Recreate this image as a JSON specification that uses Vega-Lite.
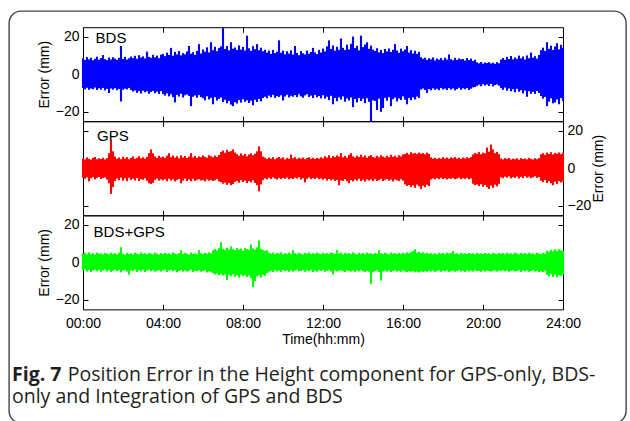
{
  "$schema": "https://vega.github.io/schema/vega-lite/v6.json",
  "width": 617,
  "height": 412,
  "autosize": {"type": "none"},
  "padding": {"left": 9, "top": 11, "right": 4, "bottom": 0},
  "background": "white",
  "config": {
    "view": {"stroke": "#444444", "strokeWidth": 1.4, "cornerRadius": 12},
    "axis": {
      "labelFont": "Liberation Sans", "labelFontSize": 14, "labelColor": "#000000",
      "titleFont": "Liberation Sans", "titleFontSize": 14, "titleFontWeight": "normal", "titleColor": "#000000",
      "domainColor": "#000000", "domainWidth": 1, "tickColor": "#000000", "tickWidth": 1,
      "labelFlush": false, "labelOverlap": false, "grid": false, "zindex": 1
    },
    "text": {"font": "Liberation Sans", "fontSize": 15, "color": "#000000"}
  },
  "title": {
    "text": "Fig. 7",
    "subtitle": ["\u200b\u00a0\u00a0\u00a0\u00a0\u00a0\u00a0\u00a0\u00a0\u00a0\u00a0\u00a0Position Error in the Height component for GPS-only, BDS-", "only and Integration of GPS and BDS"],
    "orient": "bottom", "anchor": "start", "frame": "group", "offset": -57, "dx": 3,
    "font": "Open Sans", "fontSize": 19.5, "fontWeight": "bold", "color": "#231f20",
    "subtitleFont": "Open Sans", "subtitleFontSize": 19.5, "subtitleFontWeight": "normal", "subtitleColor": "#231f20",
    "subtitlePadding": -19.5, "subtitleLineHeight": 22
  },
  "data": {"values": [
    {"t":0.0,"bh":8.5,"bl":-7.4,"gh":5.2,"gl":-5.0,"ch":4.6,"cl":-4.2},
    {"t":0.1,"bh":7.6,"bl":-8.1,"gh":4.7,"gl":-5.6,"ch":5.1,"cl":-3.8},
    {"t":0.2,"bh":9.1,"bl":-7.2,"gh":5.8,"gl":-4.8,"ch":4.2,"cl":-4.9},
    {"t":0.3,"bh":7.9,"bl":-8.3,"gh":5.0,"gl":-7.0,"ch":5.3,"cl":-4.1},
    {"t":0.4,"bh":8.8,"bl":-7.6,"gh":4.6,"gl":-5.3,"ch":4.4,"cl":-5.2},
    {"t":0.5,"bh":7.4,"bl":-8.0,"gh":5.5,"gl":-4.7,"ch":4.9,"cl":-4.4},
    {"t":0.6,"bh":8.2,"bl":-7.1,"gh":6.0,"gl":-5.9,"ch":4.1,"cl":-3.9},
    {"t":0.7,"bh":9.3,"bl":-8.4,"gh":4.8,"gl":-5.1,"ch":5.2,"cl":-4.7},
    {"t":0.8,"bh":7.7,"bl":-7.5,"gh":5.3,"gl":-4.6,"ch":4.5,"cl":-4.0},
    {"t":0.9,"bh":8.6,"bl":-8.2,"gh":4.9,"gl":-5.7,"ch":4.8,"cl":-5.0},
    {"t":1.0,"bh":10.2,"bl":-7.3,"gh":5.6,"gl":-5.2,"ch":4.3,"cl":-4.3},
    {"t":1.1,"bh":8.0,"bl":-8.6,"gh":4.7,"gl":-4.9,"ch":5.0,"cl":-3.7},
    {"t":1.2,"bh":7.5,"bl":-7.8,"gh":5.4,"gl":-6.0,"ch":4.7,"cl":-4.8},
    {"t":1.3,"bh":8.9,"bl":-10.0,"gh":8.0,"gl":-8.0,"ch":4.2,"cl":-4.2},
    {"t":1.4,"bh":7.8,"bl":-7.6,"gh":14.8,"gl":-13.6,"ch":5.1,"cl":-5.1},
    {"t":1.5,"bh":9.0,"bl":-8.2,"gh":9.0,"gl":-10.0,"ch":4.5,"cl":-4.5},
    {"t":1.6,"bh":8.3,"bl":-7.4,"gh":6.2,"gl":-6.8,"ch":4.9,"cl":-3.9},
    {"t":1.7,"bh":7.6,"bl":-8.5,"gh":5.1,"gl":-5.5,"ch":4.3,"cl":-4.7},
    {"t":1.8,"bh":8.7,"bl":-7.9,"gh":5.7,"gl":-6.3,"ch":5.2,"cl":-4.1},
    {"t":1.9,"bh":15.0,"bl":-14.5,"gh":4.8,"gl":-5.0,"ch":8.0,"cl":-5.3},
    {"t":2.0,"bh":8.1,"bl":-8.3,"gh":6.1,"gl":-6.6,"ch":4.6,"cl":-4.4},
    {"t":2.1,"bh":9.2,"bl":-7.7,"gh":5.2,"gl":-5.4,"ch":4.1,"cl":-4.0},
    {"t":2.2,"bh":7.8,"bl":-8.1,"gh":5.9,"gl":-6.9,"ch":5.0,"cl":-4.9},
    {"t":2.3,"bh":8.5,"bl":-7.3,"gh":4.8,"gl":-5.1,"ch":4.4,"cl":-6.5},
    {"t":2.4,"bh":9.4,"bl":-8.4,"gh":5.5,"gl":-6.2,"ch":4.8,"cl":-4.3},
    {"t":2.5,"bh":8.6,"bl":-9.2,"gh":6.3,"gl":-5.6,"ch":4.2,"cl":-4.6},
    {"t":2.6,"bh":9.8,"bl":-8.7,"gh":5.0,"gl":-6.5,"ch":5.1,"cl":-3.8},
    {"t":2.7,"bh":8.2,"bl":-9.9,"gh":5.6,"gl":-5.2,"ch":4.6,"cl":-5.1},
    {"t":2.8,"bh":10.1,"bl":-9.0,"gh":6.4,"gl":-6.8,"ch":4.3,"cl":-4.2},
    {"t":2.9,"bh":8.9,"bl":-10.3,"gh":5.3,"gl":-5.8,"ch":5.3,"cl":-4.8},
    {"t":3.0,"bh":9.5,"bl":-8.8,"gh":5.8,"gl":-6.1,"ch":4.5,"cl":-4.0},
    {"t":3.1,"bh":8.4,"bl":-9.6,"gh":5.1,"gl":-5.3,"ch":4.9,"cl":-5.2},
    {"t":3.2,"bh":12.0,"bl":-9.1,"gh":6.0,"gl":-6.7,"ch":4.2,"cl":-4.4},
    {"t":3.3,"bh":9.2,"bl":-10.4,"gh":8.0,"gl":-8.0,"ch":5.0,"cl":-3.9},
    {"t":3.4,"bh":8.7,"bl":-9.4,"gh":10.0,"gl":-8.3,"ch":4.7,"cl":-4.7},
    {"t":3.5,"bh":10.3,"bl":-8.9,"gh":8.0,"gl":-7.8,"ch":4.3,"cl":-4.1},
    {"t":3.6,"bh":9.0,"bl":-10.1,"gh":6.3,"gl":-6.2,"ch":5.2,"cl":-5.0},
    {"t":3.7,"bh":9.9,"bl":-9.3,"gh":5.4,"gl":-5.5,"ch":4.6,"cl":-4.5},
    {"t":3.8,"bh":8.5,"bl":-10.5,"gh":6.6,"gl":-6.6,"ch":4.1,"cl":-4.2},
    {"t":3.9,"bh":10.4,"bl":-9.0,"gh":5.7,"gl":-5.9,"ch":4.9,"cl":-4.9},
    {"t":4.0,"bh":10.8,"bl":-10.6,"gh":6.1,"gl":-6.4,"ch":4.4,"cl":-4.3},
    {"t":4.1,"bh":9.6,"bl":-11.4,"gh":5.5,"gl":-5.8,"ch":5.1,"cl":-3.8},
    {"t":4.2,"bh":11.5,"bl":-10.2,"gh":6.7,"gl":-6.9,"ch":4.5,"cl":-5.1},
    {"t":4.3,"bh":10.2,"bl":-11.8,"gh":8.0,"gl":-5.6,"ch":4.8,"cl":-4.4},
    {"t":4.4,"bh":14.0,"bl":-10.7,"gh":5.9,"gl":-6.5,"ch":4.2,"cl":-4.0},
    {"t":4.5,"bh":9.8,"bl":-12.2,"gh":6.8,"gl":-5.9,"ch":5.3,"cl":-4.8},
    {"t":4.6,"bh":11.9,"bl":-15.0,"gh":5.6,"gl":-7.0,"ch":4.6,"cl":-4.2},
    {"t":4.7,"bh":10.5,"bl":-11.0,"gh":6.4,"gl":-6.2,"ch":4.3,"cl":-5.3},
    {"t":4.8,"bh":12.3,"bl":-11.9,"gh":5.3,"gl":-5.7,"ch":4.9,"cl":-4.6},
    {"t":4.9,"bh":10.0,"bl":-10.4,"gh":6.9,"gl":-8.0,"ch":6.5,"cl":-4.1},
    {"t":5.0,"bh":11.2,"bl":-12.4,"gh":5.7,"gl":-6.6,"ch":4.4,"cl":-4.9},
    {"t":5.1,"bh":10.6,"bl":-11.2,"gh":6.5,"gl":-5.5,"ch":5.0,"cl":-4.3},
    {"t":5.2,"bh":12.1,"bl":-10.8,"gh":5.4,"gl":-6.8,"ch":4.7,"cl":-5.0},
    {"t":5.3,"bh":15.0,"bl":-11.6,"gh":6.2,"gl":-6.0,"ch":4.1,"cl":-4.5},
    {"t":5.4,"bh":10.9,"bl":-17.0,"gh":8.0,"gl":-6.9,"ch":5.2,"cl":-3.9},
    {"t":5.5,"bh":11.7,"bl":-12.0,"gh":5.8,"gl":-5.6,"ch":4.5,"cl":-5.2},
    {"t":5.6,"bh":10.3,"bl":-11.3,"gh":6.6,"gl":-6.7,"ch":4.8,"cl":-4.4},
    {"t":5.7,"bh":12.4,"bl":-12.5,"gh":5.5,"gl":-6.1,"ch":4.3,"cl":-4.7},
    {"t":5.8,"bh":16.0,"bl":-11.1,"gh":6.3,"gl":-5.8,"ch":6.5,"cl":-4.2},
    {"t":5.9,"bh":11.0,"bl":-12.2,"gh":5.9,"gl":-6.5,"ch":4.9,"cl":-5.0},
    {"t":6.0,"bh":13.2,"bl":-12.8,"gh":6.8,"gl":-6.3,"ch":4.4,"cl":-4.6},
    {"t":6.1,"bh":12.0,"bl":-13.9,"gh":6.1,"gl":-7.0,"ch":5.1,"cl":-4.1},
    {"t":6.2,"bh":14.3,"bl":-11.7,"gh":5.6,"gl":-5.9,"ch":4.6,"cl":-5.4},
    {"t":6.3,"bh":11.6,"bl":-13.4,"gh":6.9,"gl":-6.6,"ch":5.3,"cl":-4.8},
    {"t":6.4,"bh":17.0,"bl":-12.6,"gh":6.4,"gl":-6.2,"ch":4.8,"cl":-5.1},
    {"t":6.5,"bh":12.8,"bl":-16.0,"gh":5.8,"gl":-6.8,"ch":6.4,"cl":-5.8},
    {"t":6.6,"bh":14.6,"bl":-12.2,"gh":6.7,"gl":-6.4,"ch":7.1,"cl":-6.5},
    {"t":6.7,"bh":12.3,"bl":-14.0,"gh":6.0,"gl":-5.7,"ch":6.3,"cl":-5.9},
    {"t":6.8,"bh":13.9,"bl":-13.1,"gh":7.0,"gl":-7.0,"ch":7.5,"cl":-6.8},
    {"t":6.9,"bh":14.8,"bl":-12.4,"gh":8.6,"gl":-7.4,"ch":10.7,"cl":-6.1},
    {"t":7.0,"bh":24.5,"bl":-14.8,"gh":9.4,"gl":-8.2,"ch":7.2,"cl":-7.0},
    {"t":7.1,"bh":13.4,"bl":-13.6,"gh":8.2,"gl":-7.6,"ch":6.6,"cl":-6.4},
    {"t":7.2,"bh":15.0,"bl":-15.5,"gh":9.8,"gl":-8.8,"ch":7.8,"cl":-9.5},
    {"t":7.3,"bh":12.7,"bl":-14.2,"gh":8.8,"gl":-7.9,"ch":6.9,"cl":-6.7},
    {"t":7.4,"bh":17.0,"bl":-16.2,"gh":9.1,"gl":-9.0,"ch":8.5,"cl":-7.3},
    {"t":7.5,"bh":13.6,"bl":-17.0,"gh":10.0,"gl":-8.4,"ch":7.0,"cl":-6.2},
    {"t":7.6,"bh":14.2,"bl":-14.9,"gh":8.4,"gl":-7.2,"ch":6.5,"cl":-7.6},
    {"t":7.7,"bh":12.9,"bl":-15.6,"gh":7.5,"gl":-6.8,"ch":7.6,"cl":-6.9},
    {"t":7.8,"bh":15.3,"bl":-13.8,"gh":6.6,"gl":-7.7,"ch":6.8,"cl":-8.0},
    {"t":7.9,"bh":13.1,"bl":-15.1,"gh":7.9,"gl":-6.3,"ch":7.3,"cl":-6.5},
    {"t":8.0,"bh":14.5,"bl":-13.3,"gh":6.8,"gl":-7.3,"ch":6.2,"cl":-7.2},
    {"t":8.1,"bh":12.6,"bl":-14.7,"gh":7.6,"gl":-6.6,"ch":7.7,"cl":-6.8},
    {"t":8.2,"bh":20.5,"bl":-13.9,"gh":6.3,"gl":-7.9,"ch":7.1,"cl":-7.8},
    {"t":8.3,"bh":13.8,"bl":-15.3,"gh":7.3,"gl":-6.9,"ch":6.7,"cl":-7.1},
    {"t":8.4,"bh":12.4,"bl":-14.1,"gh":7.9,"gl":-7.5,"ch":9.5,"cl":-8.3},
    {"t":8.5,"bh":14.9,"bl":-16.5,"gh":6.9,"gl":-6.4,"ch":7.4,"cl":-13.2},
    {"t":8.6,"bh":13.3,"bl":-13.6,"gh":7.7,"gl":-7.8,"ch":6.8,"cl":-10.0},
    {"t":8.7,"bh":16.0,"bl":-14.8,"gh":9.0,"gl":-9.0,"ch":7.9,"cl":-7.5},
    {"t":8.8,"bh":12.8,"bl":-13.2,"gh":11.6,"gl":-12.3,"ch":11.6,"cl":-6.9},
    {"t":8.9,"bh":14.1,"bl":-14.5,"gh":9.0,"gl":-8.6,"ch":7.2,"cl":-8.1},
    {"t":9.0,"bh":12.2,"bl":-12.7,"gh":6.2,"gl":-6.3,"ch":6.6,"cl":-6.6},
    {"t":9.1,"bh":13.0,"bl":-12.0,"gh":5.6,"gl":-5.4,"ch":6.1,"cl":-7.2},
    {"t":9.2,"bh":11.5,"bl":-12.8,"gh":4.9,"gl":-5.9,"ch":6.4,"cl":-5.7},
    {"t":9.3,"bh":12.6,"bl":-11.4,"gh":5.7,"gl":-5.0,"ch":5.2,"cl":-5.0},
    {"t":9.4,"bh":10.8,"bl":-12.3,"gh":5.1,"gl":-5.7,"ch":4.6,"cl":-4.5},
    {"t":9.5,"bh":12.9,"bl":-11.0,"gh":5.9,"gl":-4.8,"ch":5.3,"cl":-5.2},
    {"t":9.6,"bh":11.2,"bl":-12.6,"gh":4.8,"gl":-5.5,"ch":4.4,"cl":-4.1},
    {"t":9.7,"bh":12.0,"bl":-11.7,"gh":5.4,"gl":-6.0,"ch":5.0,"cl":-4.8},
    {"t":9.8,"bh":18.0,"bl":-12.1,"gh":6.0,"gl":-5.2,"ch":4.7,"cl":-4.4},
    {"t":9.9,"bh":11.4,"bl":-11.2,"gh":5.2,"gl":-5.8,"ch":5.4,"cl":-5.1},
    {"t":10.0,"bh":12.5,"bl":-14.0,"gh":5.8,"gl":-5.1,"ch":4.3,"cl":-4.0},
    {"t":10.1,"bh":10.6,"bl":-11.9,"gh":4.7,"gl":-5.6,"ch":4.9,"cl":-4.7},
    {"t":10.2,"bh":12.2,"bl":-10.9,"gh":5.5,"gl":-4.9,"ch":4.5,"cl":-4.3},
    {"t":10.3,"bh":11.0,"bl":-12.4,"gh":5.0,"gl":-5.9,"ch":5.2,"cl":-5.0},
    {"t":10.4,"bh":12.7,"bl":-11.5,"gh":7.3,"gl":-5.3,"ch":4.6,"cl":-4.2},
    {"t":10.5,"bh":10.4,"bl":-12.0,"gh":5.3,"gl":-5.7,"ch":6.5,"cl":-4.9},
    {"t":10.6,"bh":15.0,"bl":-11.1,"gh":5.9,"gl":-5.0,"ch":4.8,"cl":-4.4},
    {"t":10.7,"bh":11.3,"bl":-12.2,"gh":4.9,"gl":-5.5,"ch":4.4,"cl":-3.9},
    {"t":10.8,"bh":10.1,"bl":-10.7,"gh":5.6,"gl":-4.7,"ch":5.1,"cl":-4.8},
    {"t":10.9,"bh":12.3,"bl":-11.8,"gh":5.1,"gl":-6.0,"ch":4.7,"cl":-4.6},
    {"t":11.0,"bh":11.1,"bl":-12.5,"gh":5.7,"gl":-5.3,"ch":4.2,"cl":-4.1},
    {"t":11.1,"bh":10.5,"bl":-11.3,"gh":4.8,"gl":-7.5,"ch":5.0,"cl":-5.0},
    {"t":11.2,"bh":12.6,"bl":-10.6,"gh":5.4,"gl":-5.6,"ch":4.6,"cl":-4.3},
    {"t":11.3,"bh":10.9,"bl":-12.1,"gh":5.9,"gl":-4.9,"ch":5.3,"cl":-4.7},
    {"t":11.4,"bh":11.8,"bl":-11.4,"gh":5.0,"gl":-5.8,"ch":4.4,"cl":-4.0},
    {"t":11.5,"bh":14.0,"bl":-12.7,"gh":5.6,"gl":-5.2,"ch":4.9,"cl":-5.2},
    {"t":11.6,"bh":11.6,"bl":-11.0,"gh":4.9,"gl":-5.7,"ch":4.5,"cl":-4.4},
    {"t":11.7,"bh":10.7,"bl":-12.3,"gh":5.5,"gl":-5.0,"ch":5.2,"cl":-4.9},
    {"t":11.8,"bh":12.9,"bl":-11.6,"gh":5.1,"gl":-5.9,"ch":4.7,"cl":-4.2},
    {"t":11.9,"bh":11.5,"bl":-12.9,"gh":5.8,"gl":-5.4,"ch":4.3,"cl":-4.6},
    {"t":12.0,"bh":13.6,"bl":-11.2,"gh":5.3,"gl":-6.1,"ch":5.1,"cl":-4.0},
    {"t":12.1,"bh":12.1,"bl":-13.0,"gh":6.4,"gl":-5.5,"ch":4.6,"cl":-5.0},
    {"t":12.2,"bh":14.8,"bl":-12.0,"gh":5.7,"gl":-6.6,"ch":4.9,"cl":-4.5},
    {"t":12.3,"bh":18.0,"bl":-13.8,"gh":6.9,"gl":-5.7,"ch":4.4,"cl":-4.1},
    {"t":12.4,"bh":13.4,"bl":-11.5,"gh":5.5,"gl":-6.4,"ch":5.3,"cl":-4.8},
    {"t":12.5,"bh":15.3,"bl":-16.0,"gh":6.5,"gl":-5.9,"ch":4.8,"cl":-6.5},
    {"t":12.6,"bh":12.5,"bl":-12.6,"gh":5.9,"gl":-6.8,"ch":4.5,"cl":-4.3},
    {"t":12.7,"bh":14.6,"bl":-14.4,"gh":6.8,"gl":-6.2,"ch":6.5,"cl":-4.9},
    {"t":12.8,"bh":13.0,"bl":-12.3,"gh":6.1,"gl":-9.0,"ch":4.7,"cl":-4.4},
    {"t":12.9,"bh":19.0,"bl":-13.5,"gh":8.0,"gl":-6.5,"ch":5.2,"cl":-4.1},
    {"t":13.0,"bh":14.0,"bl":-11.8,"gh":5.8,"gl":-6.7,"ch":4.3,"cl":-4.7},
    {"t":13.1,"bh":12.8,"bl":-14.6,"gh":6.6,"gl":-5.8,"ch":5.0,"cl":-5.1},
    {"t":13.2,"bh":15.7,"bl":-12.9,"gh":5.6,"gl":-6.9,"ch":4.6,"cl":-4.2},
    {"t":13.3,"bh":13.2,"bl":-14.0,"gh":7.1,"gl":-8.0,"ch":4.9,"cl":-4.6},
    {"t":13.4,"bh":16.2,"bl":-12.4,"gh":8.0,"gl":-6.3,"ch":4.4,"cl":-4.9},
    {"t":13.5,"bh":20.0,"bl":-17.5,"gh":6.3,"gl":-7.0,"ch":5.3,"cl":-4.4},
    {"t":13.6,"bh":13.9,"bl":-13.2,"gh":5.7,"gl":-6.0,"ch":4.7,"cl":-5.0},
    {"t":13.7,"bh":15.1,"bl":-15.0,"gh":6.7,"gl":-6.6,"ch":4.2,"cl":-4.3},
    {"t":13.8,"bh":12.7,"bl":-12.7,"gh":6.0,"gl":-5.6,"ch":5.1,"cl":-4.8},
    {"t":13.9,"bh":20.5,"bl":-14.3,"gh":7.2,"gl":-6.8,"ch":4.5,"cl":-4.1},
    {"t":14.0,"bh":14.4,"bl":-13.1,"gh":5.9,"gl":-6.1,"ch":4.9,"cl":-4.7},
    {"t":14.1,"bh":15.8,"bl":-15.4,"gh":6.8,"gl":-7.1,"ch":4.4,"cl":-5.2},
    {"t":14.2,"bh":17.0,"bl":-12.8,"gh":5.5,"gl":-5.9,"ch":5.2,"cl":-4.5},
    {"t":14.3,"bh":13.5,"bl":-14.7,"gh":6.4,"gl":-6.5,"ch":4.6,"cl":-5.0},
    {"t":14.4,"bh":15.2,"bl":-25.0,"gh":7.0,"gl":-6.0,"ch":4.8,"cl":-11.4},
    {"t":14.5,"bh":13.1,"bl":-13.9,"gh":6.0,"gl":-6.9,"ch":4.3,"cl":-5.3},
    {"t":14.6,"bh":12.4,"bl":-14.2,"gh":5.6,"gl":-5.8,"ch":5.0,"cl":-4.6},
    {"t":14.7,"bh":13.8,"bl":-19.0,"gh":6.6,"gl":-6.7,"ch":4.6,"cl":-4.2},
    {"t":14.8,"bh":11.6,"bl":-13.0,"gh":5.8,"gl":-6.2,"ch":6.5,"cl":-5.1},
    {"t":14.9,"bh":12.9,"bl":-20.0,"gh":6.9,"gl":-5.6,"ch":4.9,"cl":-9.7},
    {"t":15.0,"bh":11.2,"bl":-18.0,"gh":6.2,"gl":-6.8,"ch":4.4,"cl":-4.8},
    {"t":15.1,"bh":13.4,"bl":-12.6,"gh":5.7,"gl":-6.1,"ch":5.1,"cl":-4.3},
    {"t":15.2,"bh":12.1,"bl":-14.1,"gh":6.5,"gl":-5.7,"ch":4.7,"cl":-4.9},
    {"t":15.3,"bh":13.7,"bl":-12.2,"gh":5.9,"gl":-6.6,"ch":4.3,"cl":-4.4},
    {"t":15.4,"bh":11.8,"bl":-17.0,"gh":7.1,"gl":-6.0,"ch":5.2,"cl":-5.1},
    {"t":15.5,"bh":13.0,"bl":-13.3,"gh":6.1,"gl":-7.0,"ch":4.6,"cl":-4.6},
    {"t":15.6,"bh":16.0,"bl":-12.4,"gh":6.6,"gl":-5.9,"ch":4.9,"cl":-4.1},
    {"t":15.7,"bh":12.6,"bl":-14.5,"gh":5.8,"gl":-6.4,"ch":4.4,"cl":-4.9},
    {"t":15.8,"bh":11.4,"bl":-12.9,"gh":6.9,"gl":-6.8,"ch":5.0,"cl":-4.5},
    {"t":15.9,"bh":13.6,"bl":-13.7,"gh":6.3,"gl":-5.8,"ch":4.5,"cl":-5.0},
    {"t":16.0,"bh":12.2,"bl":-11.8,"gh":7.3,"gl":-6.6,"ch":5.1,"cl":-4.3},
    {"t":16.1,"bh":13.1,"bl":-13.6,"gh":7.6,"gl":-8.6,"ch":4.6,"cl":-4.8},
    {"t":16.2,"bh":15.0,"bl":-16.0,"gh":8.2,"gl":-9.4,"ch":5.3,"cl":-5.2},
    {"t":16.3,"bh":11.5,"bl":-12.7,"gh":7.3,"gl":-8.9,"ch":4.8,"cl":-4.6},
    {"t":16.4,"bh":12.8,"bl":-13.8,"gh":8.5,"gl":-10.0,"ch":5.4,"cl":-5.0},
    {"t":16.5,"bh":11.0,"bl":-12.3,"gh":7.8,"gl":-9.1,"ch":6.0,"cl":-4.7},
    {"t":16.6,"bh":12.5,"bl":-13.4,"gh":8.1,"gl":-10.4,"ch":7.0,"cl":-5.3},
    {"t":16.7,"bh":10.8,"bl":-11.9,"gh":7.5,"gl":-8.7,"ch":5.2,"cl":-4.9},
    {"t":16.8,"bh":11.9,"bl":-12.6,"gh":8.4,"gl":-9.6,"ch":5.6,"cl":-5.4},
    {"t":16.9,"bh":9.0,"bl":-8.2,"gh":7.7,"gl":-11.0,"ch":4.9,"cl":-4.8},
    {"t":17.0,"bh":8.2,"bl":-7.6,"gh":8.0,"gl":-9.3,"ch":5.3,"cl":-5.1},
    {"t":17.1,"bh":8.8,"bl":-8.4,"gh":7.4,"gl":-10.1,"ch":4.7,"cl":-4.6},
    {"t":17.2,"bh":7.6,"bl":-10.0,"gh":8.3,"gl":-8.8,"ch":5.1,"cl":-5.0},
    {"t":17.3,"bh":8.5,"bl":-7.9,"gh":7.6,"gl":-9.5,"ch":4.5,"cl":-4.4},
    {"t":17.4,"bh":7.9,"bl":-8.6,"gh":5.8,"gl":-6.0,"ch":5.0,"cl":-4.9},
    {"t":17.5,"bh":8.9,"bl":-7.5,"gh":5.1,"gl":-5.4,"ch":4.4,"cl":-4.3},
    {"t":17.6,"bh":7.3,"bl":-8.3,"gh":5.6,"gl":-5.9,"ch":4.8,"cl":-5.1},
    {"t":17.7,"bh":8.3,"bl":-7.8,"gh":4.9,"gl":-5.2,"ch":4.3,"cl":-4.6},
    {"t":17.8,"bh":7.7,"bl":-8.5,"gh":5.5,"gl":-5.8,"ch":5.1,"cl":-4.2},
    {"t":17.9,"bh":8.6,"bl":-7.3,"gh":5.0,"gl":-5.1,"ch":4.6,"cl":-5.0},
    {"t":18.0,"bh":7.5,"bl":-8.1,"gh":5.9,"gl":-5.7,"ch":4.9,"cl":-4.5},
    {"t":18.1,"bh":8.8,"bl":-7.7,"gh":5.2,"gl":-5.3,"ch":4.4,"cl":-4.8},
    {"t":18.2,"bh":7.8,"bl":-8.4,"gh":5.7,"gl":-6.0,"ch":5.2,"cl":-4.3},
    {"t":18.3,"bh":10.5,"bl":-7.4,"gh":5.0,"gl":-5.4,"ch":4.7,"cl":-5.2},
    {"t":18.4,"bh":8.0,"bl":-8.2,"gh":5.8,"gl":-5.6,"ch":5.0,"cl":-4.7},
    {"t":18.5,"bh":7.4,"bl":-7.6,"gh":5.3,"gl":-5.2,"ch":6.0,"cl":-4.4},
    {"t":18.6,"bh":8.7,"bl":-8.6,"gh":5.9,"gl":-5.9,"ch":4.5,"cl":-5.0},
    {"t":18.7,"bh":7.6,"bl":-7.9,"gh":5.1,"gl":-5.5,"ch":4.9,"cl":-4.6},
    {"t":18.8,"bh":8.4,"bl":-7.2,"gh":5.6,"gl":-5.0,"ch":4.3,"cl":-4.1},
    {"t":18.9,"bh":7.9,"bl":-8.3,"gh":4.9,"gl":-5.8,"ch":5.1,"cl":-4.9},
    {"t":19.0,"bh":8.1,"bl":-7.5,"gh":5.7,"gl":-5.3,"ch":4.6,"cl":-4.5},
    {"t":19.1,"bh":7.2,"bl":-8.0,"gh":5.2,"gl":-5.7,"ch":4.8,"cl":-5.1},
    {"t":19.2,"bh":8.6,"bl":-7.3,"gh":5.8,"gl":-5.1,"ch":4.4,"cl":-4.3},
    {"t":19.3,"bh":7.5,"bl":-8.4,"gh":5.4,"gl":-5.9,"ch":5.0,"cl":-4.8},
    {"t":19.4,"bh":8.3,"bl":-7.7,"gh":5.9,"gl":-5.4,"ch":4.5,"cl":-4.4},
    {"t":19.5,"bh":7.0,"bl":-7.0,"gh":7.3,"gl":-8.2,"ch":4.9,"cl":-4.9},
    {"t":19.6,"bh":7.7,"bl":-6.8,"gh":8.1,"gl":-9.0,"ch":4.3,"cl":-4.2},
    {"t":19.7,"bh":6.3,"bl":-6.2,"gh":7.6,"gl":-8.6,"ch":5.1,"cl":-4.7},
    {"t":19.8,"bh":5.8,"bl":-5.6,"gh":8.6,"gl":-9.5,"ch":4.6,"cl":-4.5},
    {"t":19.9,"bh":6.5,"bl":-6.4,"gh":7.4,"gl":-8.4,"ch":4.8,"cl":-5.0},
    {"t":20.0,"bh":5.6,"bl":-5.3,"gh":8.3,"gl":-9.8,"ch":4.4,"cl":-4.3},
    {"t":20.1,"bh":6.2,"bl":-6.0,"gh":7.9,"gl":-8.9,"ch":5.0,"cl":-4.8},
    {"t":20.2,"bh":5.9,"bl":-5.5,"gh":11.0,"gl":-10.0,"ch":4.5,"cl":-4.4},
    {"t":20.3,"bh":6.4,"bl":-6.3,"gh":8.8,"gl":-11.0,"ch":4.9,"cl":-4.6},
    {"t":20.4,"bh":5.7,"bl":-5.2,"gh":12.6,"gl":-9.2,"ch":4.3,"cl":-5.0},
    {"t":20.5,"bh":6.1,"bl":-6.5,"gh":10.0,"gl":-10.4,"ch":5.1,"cl":-4.5},
    {"t":20.6,"bh":5.5,"bl":-5.8,"gh":8.0,"gl":-8.7,"ch":4.7,"cl":-4.2},
    {"t":20.7,"bh":6.4,"bl":-5.4,"gh":8.7,"gl":-9.6,"ch":4.4,"cl":-4.9},
    {"t":20.8,"bh":5.8,"bl":-6.1,"gh":7.5,"gl":-8.3,"ch":5.0,"cl":-4.4},
    {"t":20.9,"bh":7.8,"bl":-7.4,"gh":5.2,"gl":-4.8,"ch":4.6,"cl":-4.7},
    {"t":21.0,"bh":8.6,"bl":-8.3,"gh":4.7,"gl":-5.3,"ch":4.9,"cl":-4.1},
    {"t":21.1,"bh":7.6,"bl":-7.1,"gh":5.4,"gl":-4.5,"ch":4.3,"cl":-4.8},
    {"t":21.2,"bh":9.2,"bl":-8.8,"gh":4.9,"gl":-5.0,"ch":5.1,"cl":-4.4},
    {"t":21.3,"bh":8.0,"bl":-7.6,"gh":5.5,"gl":-4.3,"ch":4.6,"cl":-5.0},
    {"t":21.4,"bh":9.7,"bl":-9.1,"gh":4.6,"gl":-5.4,"ch":4.8,"cl":-4.5},
    {"t":21.5,"bh":7.9,"bl":-8.0,"gh":5.1,"gl":-4.7,"ch":4.4,"cl":-4.3},
    {"t":21.6,"bh":8.9,"bl":-9.6,"gh":4.8,"gl":-5.1,"ch":5.2,"cl":-4.9},
    {"t":21.7,"bh":8.2,"bl":-7.8,"gh":5.3,"gl":-4.4,"ch":4.7,"cl":-4.6},
    {"t":21.8,"bh":9.9,"bl":-9.3,"gh":4.5,"gl":-5.5,"ch":4.3,"cl":-4.2},
    {"t":21.9,"bh":8.4,"bl":-8.5,"gh":5.4,"gl":-4.6,"ch":5.0,"cl":-5.1},
    {"t":22.0,"bh":9.4,"bl":-10.2,"gh":4.9,"gl":-5.2,"ch":4.5,"cl":-4.4},
    {"t":22.1,"bh":7.8,"bl":-8.7,"gh":5.2,"gl":-4.1,"ch":4.9,"cl":-4.8},
    {"t":22.2,"bh":10.0,"bl":-12.0,"gh":4.7,"gl":-5.0,"ch":4.4,"cl":-4.3},
    {"t":22.3,"bh":8.5,"bl":-9.0,"gh":5.5,"gl":-4.5,"ch":5.1,"cl":-5.0},
    {"t":22.4,"bh":11.5,"bl":-10.4,"gh":5.0,"gl":-5.3,"ch":4.6,"cl":-4.6},
    {"t":22.5,"bh":8.8,"bl":-9.4,"gh":4.6,"gl":-4.8,"ch":4.8,"cl":-4.1},
    {"t":22.6,"bh":9.6,"bl":-10.5,"gh":5.3,"gl":-4.2,"ch":4.3,"cl":-4.9},
    {"t":22.7,"bh":8.3,"bl":-8.9,"gh":4.8,"gl":-5.1,"ch":5.2,"cl":-4.5},
    {"t":22.8,"bh":10.2,"bl":-10.0,"gh":5.4,"gl":-4.7,"ch":4.7,"cl":-5.2},
    {"t":22.9,"bh":12.8,"bl":-11.6,"gh":7.4,"gl":-6.6,"ch":4.4,"cl":-4.7},
    {"t":23.0,"bh":14.1,"bl":-13.0,"gh":8.0,"gl":-7.4,"ch":5.0,"cl":-5.1},
    {"t":23.1,"bh":12.4,"bl":-12.1,"gh":7.1,"gl":-6.2,"ch":4.6,"cl":-4.4},
    {"t":23.2,"bh":17.0,"bl":-17.0,"gh":8.3,"gl":-7.8,"ch":6.2,"cl":-6.6},
    {"t":23.3,"bh":13.5,"bl":-14.6,"gh":7.6,"gl":-6.9,"ch":5.7,"cl":-7.4},
    {"t":23.4,"bh":15.2,"bl":-12.8,"gh":8.5,"gl":-8.0,"ch":6.6,"cl":-6.1},
    {"t":23.5,"bh":12.9,"bl":-15.5,"gh":7.3,"gl":-9.0,"ch":5.9,"cl":-7.8},
    {"t":23.6,"bh":14.7,"bl":-15.0,"gh":8.1,"gl":-7.2,"ch":6.9,"cl":-6.5},
    {"t":23.7,"bh":16.5,"bl":-13.4,"gh":7.7,"gl":-8.3,"ch":6.1,"cl":-8.0},
    {"t":23.8,"bh":13.2,"bl":-16.0,"gh":8.4,"gl":-6.8,"ch":7.0,"cl":-6.9},
    {"t":23.9,"bh":15.6,"bl":-12.7,"gh":7.5,"gl":-7.6,"ch":6.4,"cl":-7.2},
    {"t":24.0,"bh":14.0,"bl":-14.3,"gh":8.2,"gl":-7.0,"ch":6.0,"cl":-6.4}
  ]},
  "layer": [
    {
      "mark": {"type": "rule", "color": "#0000ff", "strokeWidth": 2.1},
      "encoding": {
        "x": {"field": "t", "type": "quantitative",
              "scale": {"domain": [0, 24], "range": [74, 554], "nice": false, "zero": false},
              "axis": {"orient": "top", "offset": -16.2, "labels": false, "title": null, "values": [0, 4, 8, 12, 16, 20, 24], "tickSize": -5}},
        "y": {"field": "bh", "type": "quantitative",
              "scale": {"domain": [-25, 25], "range": [110.2, 16.2], "nice": false, "zero": false},
              "axis": {"orient": "left", "offset": -74, "values": [-20, 0, 20], "tickSize": -5, "labelPadding": 9,
                       "title": "Error (mm)", "titleX": -39, "titleY": 63.2, "titleAngle": 270, "titleAlign": "center", "titleBaseline": "middle"}},
        "y2": {"field": "bl"}
      }
    },
    {
      "data": {"values": [{"label": "BDS"}]},
      "mark": {"type": "text", "align": "left", "baseline": "alphabetic"},
      "encoding": {
        "text": {"field": "label"},
        "x": {"datum": 0.63, "type": "quantitative",
              "scale": {"domain": [0, 24], "range": [74, 554], "nice": false, "zero": false},
              "axis": {"orient": "bottom", "offset": -301.8, "labels": false, "title": null, "values": [0, 4, 8, 12, 16, 20, 24], "tickSize": -5}},
        "y": {"datum": 16.4, "type": "quantitative",
              "scale": {"domain": [-25, 25], "range": [110.2, 16.2], "nice": false, "zero": false},
              "axis": {"orient": "right", "offset": -63, "labels": false, "title": null, "values": [-20, 0, 20], "tickSize": -5}}
      }
    },
    {
      "mark": {"type": "rule", "color": "#ff0000", "strokeWidth": 2.1},
      "encoding": {
        "x": {"field": "t", "type": "quantitative",
              "scale": {"domain": [0, 24], "range": [74, 554], "nice": false, "zero": false},
              "axis": {"orient": "top", "offset": -110.2, "labels": false, "title": null, "values": [0, 4, 8, 12, 16, 20, 24], "tickSize": -5}},
        "y": {"field": "gh", "type": "quantitative",
              "scale": {"domain": [-25, 25], "range": [204.3, 110.2], "nice": false, "zero": false},
              "axis": {"orient": "left", "offset": -74, "labels": false, "title": null, "values": [-20, 0, 20], "tickSize": -5}},
        "y2": {"field": "gl"}
      }
    },
    {
      "data": {"values": [{"label": "GPS"}]},
      "mark": {"type": "text", "align": "left", "baseline": "alphabetic"},
      "encoding": {
        "text": {"field": "label"},
        "x": {"datum": 0.7, "type": "quantitative",
              "scale": {"domain": [0, 24], "range": [74, 554], "nice": false, "zero": false},
              "axis": {"orient": "bottom", "offset": -207.7, "labels": false, "title": null, "values": [0, 4, 8, 12, 16, 20, 24], "tickSize": -5}},
        "y": {"datum": 14.6, "type": "quantitative",
              "scale": {"domain": [-25, 25], "range": [204.3, 110.2], "nice": false, "zero": false},
              "axis": {"orient": "right", "offset": -63, "values": [-20, 0, 20], "tickSize": -5, "labelPadding": 9,
                       "title": "Error (mm)", "titleX": 35.3, "titleY": 157.2, "titleAngle": 270, "titleAlign": "center", "titleBaseline": "middle"}}
      }
    },
    {
      "mark": {"type": "rule", "color": "#00ff00", "strokeWidth": 2.1},
      "encoding": {
        "x": {"field": "t", "type": "quantitative",
              "scale": {"domain": [0, 24], "range": [74, 554], "nice": false, "zero": false},
              "axis": {"orient": "top", "offset": -204.3, "labels": false, "title": null, "values": [0, 4, 8, 12, 16, 20, 24], "tickSize": -5}},
        "y": {"field": "ch", "type": "quantitative",
              "scale": {"domain": [-25, 25], "range": [298.4, 204.3], "nice": false, "zero": false},
              "axis": {"orient": "left", "offset": -74, "values": [-20, 0, 20], "tickSize": -5, "labelPadding": 9,
                       "title": "Error (mm)", "titleX": -39, "titleY": 251.35, "titleAngle": 270, "titleAlign": "center", "titleBaseline": "middle"}},
        "y2": {"field": "cl"}
      }
    },
    {
      "data": {"values": [{"label": "BDS+GPS"}]},
      "mark": {"type": "text", "align": "left", "baseline": "alphabetic"},
      "encoding": {
        "text": {"field": "label"},
        "x": {"datum": 0.53, "type": "quantitative",
              "scale": {"domain": [0, 24], "range": [74, 554], "nice": false, "zero": false},
              "axis": {"orient": "bottom", "offset": -113.6, "values": [0, 4, 8, 12, 16, 20, 24], "tickSize": -5, "labelPadding": 12,
                       "labelExpr": "(datum.value < 10 ? '0' : '') + datum.value + ':00'",
                       "title": "Time(hh:mm)", "titlePadding": 2}},
        "y": {"datum": 13.6, "type": "quantitative",
              "scale": {"domain": [-25, 25], "range": [298.4, 204.3], "nice": false, "zero": false},
              "axis": {"orient": "right", "offset": -63, "labels": false, "title": null, "values": [-20, 0, 20], "tickSize": -5}}
      }
    }
  ],
  "resolve": {"scale": {"y": "independent"}, "axis": {"x": "independent", "y": "independent"}}
}
